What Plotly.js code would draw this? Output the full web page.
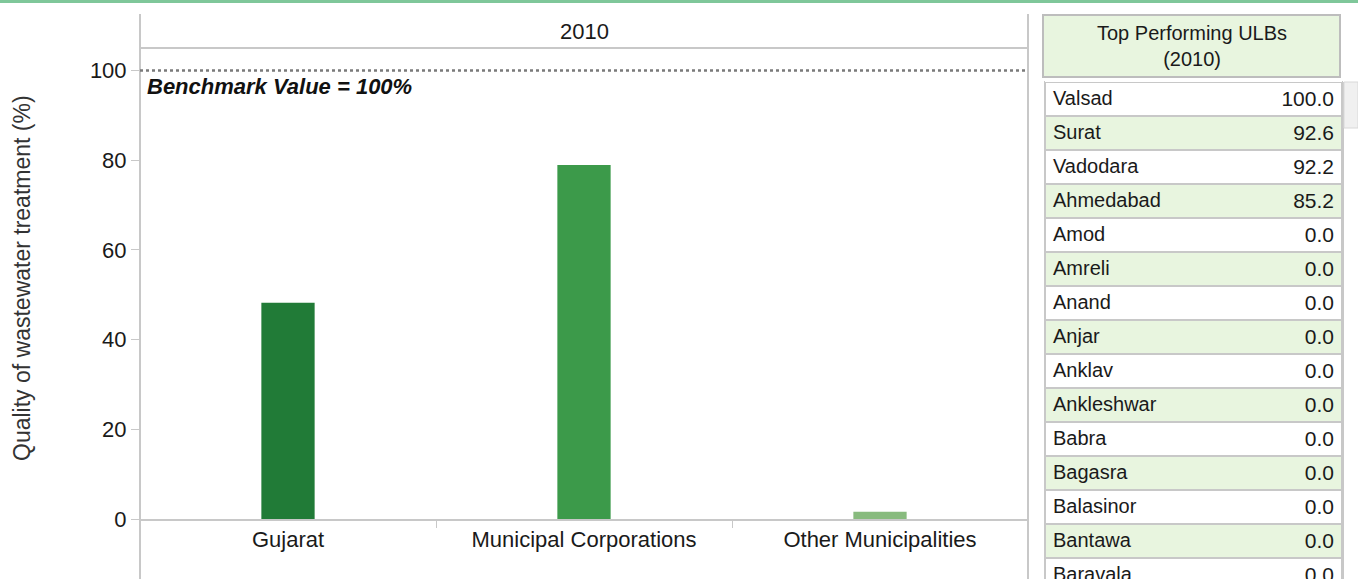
<!DOCTYPE html>
<html>
<head>
<meta charset="utf-8">
<script src="https://cdn.plot.ly/plotly-3.0.1.min.js"></script>
<style>
  html, body { margin: 0; padding: 0; background: #fff; }
  #chart { width: 1358px; height: 579px; }
</style>
</head>
<body>
<div id="chart"></div>
<script>
// ---- data ----
const categories = ["Gujarat", "Municipal Corporations", "Other Municipalities"];
const treatmentValues = [48.2, 78.9, 1.6];
const barColors = ["#217b37", "#3c9a4a", "#88bb7e"];
const yTickValues = [0, 20, 40, 60, 80, 100];
const benchmark = 100;
const panelYear = "2010";

const ulbNames = ["Valsad", "Surat", "Vadodara", "Ahmedabad", "Amod", "Amreli", "Anand", "Anjar",
  "Anklav", "Ankleshwar", "Babra", "Bagasra", "Balasinor", "Bantawa", "Baravala"];
const ulbValues = [100.0, 92.6, 92.2, 85.2, 0.0, 0.0, 0.0, 0.0, 0.0, 0.0, 0.0, 0.0, 0.0, 0.0, 0.0];

// ---- geometry helpers (pixels -> paper) ----
const W = 1358, H = 579;
const px = v => v / W;
const py = v => 1 - v / H;
const FONT = "Arial, 'Liberation Sans', sans-serif";
const LINE = "#c8c8c8";
const GREEN_FILL = "#e8f5df";

const rowFills = ulbNames.map((_, i) => i % 2 === 0 ? "#ffffff" : GREEN_FILL);

const barTrace = {
  type: "bar",
  x: categories,
  y: treatmentValues,
  marker: { color: barColors },
  width: 0.18,
  hoverinfo: "x+y",
  showlegend: false
};

const tableDomainX = [px(1045), px(1342)];
const tableDomainY = [0, py(66)];

const nameTable = {
  type: "table",
  domain: { x: tableDomainX, y: tableDomainY },
  header: { values: [], fill: { color: "#ffffff" }, line: { color: "#ffffff", width: 0 } },
  cells: {
    values: [ulbNames],
    align: ["left"],
    height: 34,
    fill: { color: [rowFills] },
    line: { color: LINE, width: 2 },
    font: { family: FONT, size: 20, color: "#1a1a1a" }
  }
};

const valueTable = {
  type: "table",
  domain: { x: tableDomainX, y: tableDomainY },
  header: { values: [], fill: { color: "rgba(0,0,0,0)" }, line: { color: "rgba(0,0,0,0)", width: 0 } },
  cells: {
    values: [ulbValues.map(v => v.toFixed(1))],
    align: ["right"],
    height: 34,
    fill: { color: "rgba(0,0,0,0)" },
    line: { color: "rgba(0,0,0,0)", width: 0 },
    font: { family: FONT, size: 21, color: "#1a1a1a" }
  }
};

const layout = {
  width: W, height: H,
  margin: { l: 0, r: 0, t: 0, b: 0 },
  paper_bgcolor: "#ffffff",
  plot_bgcolor: "#ffffff",
  font: { family: FONT, size: 20, color: "#222" },
  bargap: 0.82,
  xaxis: {
    domain: [px(140), px(1028)],
    type: "category",
    showgrid: false,
    zeroline: false,
    showline: true,
    linecolor: LINE,
    linewidth: 2,
    ticks: "outside",
    tickson: "boundaries",
    ticklen: 7,
    tickcolor: LINE,
    tickfont: { family: FONT, size: 22, color: "#1a1a1a" },
    fixedrange: true
  },
  yaxis: {
    domain: [py(519), py(48)],
    range: [0, 105],
    tickvals: yTickValues,
    ticktext: yTickValues.map(String),
    showgrid: false,
    zeroline: false,
    showline: false,
    ticks: "outside",
    ticklen: 8,
    tickcolor: LINE,
    tickfont: { family: FONT, size: 22, color: "#1a1a1a" },
    fixedrange: true
  },
  shapes: [
    // top green rule
    { type: "rect", xref: "paper", yref: "paper", x0: 0, x1: 1, y0: py(3), y1: 1,
      fillcolor: "#7fc79a", line: { width: 0 } },
    // left and right panel borders
    { type: "line", xref: "paper", yref: "paper", x0: px(140), x1: px(140), y0: py(14), y1: 0,
      line: { color: LINE, width: 2 } },
    { type: "line", xref: "paper", yref: "paper", x0: px(1028), x1: px(1028), y0: py(14), y1: 0,
      line: { color: LINE, width: 2 } },
    // header separator
    { type: "line", xref: "paper", yref: "paper", x0: px(140), x1: px(1028), y0: py(48), y1: py(48),
      line: { color: LINE, width: 2 } },
    // benchmark line
    { type: "line", xref: "paper", yref: "y", x0: px(140), x1: px(1028), y0: benchmark, y1: benchmark,
      line: { color: "#7a7a7a", width: 2.5, dash: "dot" } },
    // table header box
    { type: "rect", xref: "paper", yref: "paper", x0: px(1043), x1: px(1340), y0: py(77), y1: py(15),
      fillcolor: GREEN_FILL, line: { color: "#bdbdbd", width: 2 }, layer: "above" },
    // scrollbar track border + thumb
    { type: "line", xref: "paper", yref: "paper", x0: px(1343), x1: px(1343), y0: py(82), y1: 0,
      line: { color: LINE, width: 2 }, layer: "above" },
    { type: "rect", xref: "paper", yref: "paper", x0: px(1344), x1: px(1358), y0: py(128), y1: py(82),
      fillcolor: "#f0f0f0", line: { color: "#d8d8d8", width: 1 }, layer: "above" }
  ],
  annotations: [
    { xref: "paper", yref: "paper", x: px(584), y: py(31), xanchor: "center", yanchor: "middle",
      text: panelYear, showarrow: false, font: { family: FONT, size: 22, color: "#1a1a1a" } },
    { xref: "paper", yref: "y", x: px(145), y: benchmark, xanchor: "left", yanchor: "top", yshift: -2,
      text: "<b><i>Benchmark Value = " + benchmark + "%</i></b>",
      showarrow: false, font: { family: FONT, size: 22, color: "#111" } },
    { xref: "paper", yref: "paper", x: px(22), y: py(278), xanchor: "center", yanchor: "middle",
      textangle: -90, text: "Quality of wastewater treatment (%)",
      showarrow: false, font: { family: FONT, size: 23, color: "#333" } },
    { xref: "paper", yref: "paper", x: px(1192), y: py(46), xanchor: "center", yanchor: "middle",
      text: "Top Performing ULBs<br>(" + panelYear + ")",
      showarrow: false, font: { family: FONT, size: 20, color: "#1a1a1a" } }
  ]
};

Plotly.newPlot("chart", [barTrace, nameTable, valueTable], layout, { displayModeBar: false });
</script>
</body>
</html>
